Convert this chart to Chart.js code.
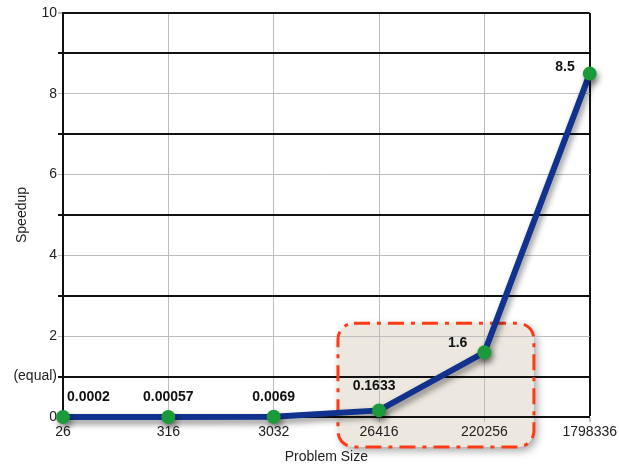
<!DOCTYPE html>
<html>
<head>
<meta charset="utf-8">
<script src="https://cdn.jsdelivr.net/npm/chart.js@4/dist/chart.umd.min.js"></script>
<style>
html,body{margin:0;padding:0;background:#fff;}
#wrap{width:619px;height:468px;position:relative;}
</style>
</head>
<body>
<div id="wrap"><canvas id="c" width="619" height="468"></canvas></div>
<script>
const categories = ['26', '316', '3032', '26416', '220256', '1798336'];
const speedup = [0.0002, 0.00057, 0.0069, 0.1633, 1.6, 8.5];
const pointLabels = ['0.0002', '0.00057', '0.0069', '0.1633', '1.6', '8.5'];
const yTickLabels = {0: '0', 1: '(equal)', 2: '2', 4: '4', 6: '6', 8: '8', 10: '10'};

const FONT = "'Liberation Sans', Arial, Helvetica, sans-serif";

// highlight box (in category-index / value units)
const highlight = {x0: 2.61, x1: 4.47, y0: 2.32, y1: -0.74, r: 16};

function boxPath(chart) {
  const xs = chart.scales.x, ys = chart.scales.y;
  const left = xs.getPixelForValue(highlight.x0), right = xs.getPixelForValue(highlight.x1);
  const top = ys.getPixelForValue(highlight.y0), bottom = ys.getPixelForValue(highlight.y1);
  chart.ctx.beginPath();
  chart.ctx.roundRect(left, top, right - left, bottom - top, highlight.r);
}

const highlightPlugin = {
  id: 'highlight',
  beforeDraw(chart) {
    const ctx = chart.ctx;
    ctx.save();
    boxPath(chart);
    ctx.shadowColor = 'rgba(0,0,0,0.35)';
    ctx.shadowBlur = 8;
    ctx.shadowOffsetX = 3;
    ctx.shadowOffsetY = 4;
    ctx.fillStyle = '#ece8df';
    ctx.fill();
    ctx.restore();
  },
  beforeDatasetsDraw(chart) {
    const ctx = chart.ctx;
    ctx.save();
    boxPath(chart);
    ctx.lineWidth = 3;
    ctx.strokeStyle = '#ff3a17';
    ctx.setLineDash([16, 7, 4, 7]);
    ctx.stroke();
    ctx.restore();
  }
};

const shadowPlugin = {
  id: 'lineShadow',
  beforeDatasetDraw(chart) {
    const ctx = chart.ctx;
    ctx.save();
    ctx.shadowColor = 'rgba(0,0,0,0.45)';
    ctx.shadowBlur = 6;
    ctx.shadowOffsetX = 2;
    ctx.shadowOffsetY = 4;
  },
  afterDatasetDraw(chart) {
    chart.ctx.restore();
  }
};

// label placement relative to each point: [dx, dy, align]
const labelPlace = [[4, -20, 'left'], [0, -20, 'center'], [0, -20, 'center'], [-5, -24, 'center'], [-17, -9, 'right'], [-15, -6, 'right']];

const labelPlugin = {
  id: 'pointLabels',
  afterDatasetsDraw(chart) {
    const ctx = chart.ctx;
    const meta = chart.getDatasetMeta(0);
    ctx.save();
    ctx.font = 'bold 14px ' + FONT;
    ctx.fillStyle = '#111';
    ctx.textBaseline = 'middle';
    meta.data.forEach((pt, i) => {
      const p = labelPlace[i];
      ctx.textAlign = p[2];
      ctx.fillText(pointLabels[i], pt.x + p[0], pt.y + p[1]);
    });
    ctx.restore();
  }
};

new Chart(document.getElementById('c'), {
  type: 'line',
  data: {
    labels: categories,
    datasets: [{
      data: speedup,
      borderColor: '#11338f',
      borderWidth: 6,
      pointRadius: 7,
      pointHoverRadius: 7,
      pointBackgroundColor: '#1c9a3a',
      pointBorderColor: '#1c9a3a',
      pointBorderWidth: 0,
      tension: 0,
      clip: false
    }]
  },
  options: {
    responsive: false,
    animation: false,
    devicePixelRatio: 1,
    layout: {padding: {left: 0, right: 28, top: 13, bottom: 2}},
    plugins: {legend: {display: false}, tooltip: {enabled: false}},
    scales: {
      x: {
        type: 'category',
        offset: false,
        afterFit(scale) { scale.height = 49; },
        grid: {
          offset: false,
          color: ctx => (ctx.index === categories.length - 1 ? '#111' : '#bdbdbd'),
          lineWidth: ctx => (ctx.index === categories.length - 1 ? 2 : 1),
          tickLength: 5,
          tickColor: '#bdbdbd'
        },
        border: {color: '#111', width: 2},
        ticks: {color: '#222', font: {family: FONT, size: 14}, padding: 2, maxRotation: 0},
        title: {display: true, text: 'Problem Size', color: '#222', font: {family: FONT, size: 14}, padding: {top: 1, bottom: 0}}
      },
      y: {
        min: 0,
        max: 10,
        afterFit(scale) { scale.width = 63; },
        grid: {
          color: ctx => (ctx.tick && (ctx.tick.value % 2 === 1 || ctx.tick.value === 10) ? '#111' : '#bdbdbd'),
          lineWidth: ctx => (ctx.tick && (ctx.tick.value % 2 === 1 || ctx.tick.value === 10) ? 2 : 1),
          tickLength: 5,
          tickColor: ctx => (ctx.tick && ctx.tick.value % 2 === 1 ? '#111' : '#bdbdbd')
        },
        border: {color: '#111', width: 2},
        ticks: {
          stepSize: 1,
          color: '#222',
          font: {family: FONT, size: 14},
          padding: 1,
          callback: v => (yTickLabels[v] !== undefined ? yTickLabels[v] : '')
        },
        title: {display: true, text: 'Speedup', color: '#222', font: {family: FONT, size: 14}, padding: {top: 14, bottom: 0}}
      }
    }
  },
  plugins: [highlightPlugin, shadowPlugin, labelPlugin]
});
</script>
</body>
</html>
